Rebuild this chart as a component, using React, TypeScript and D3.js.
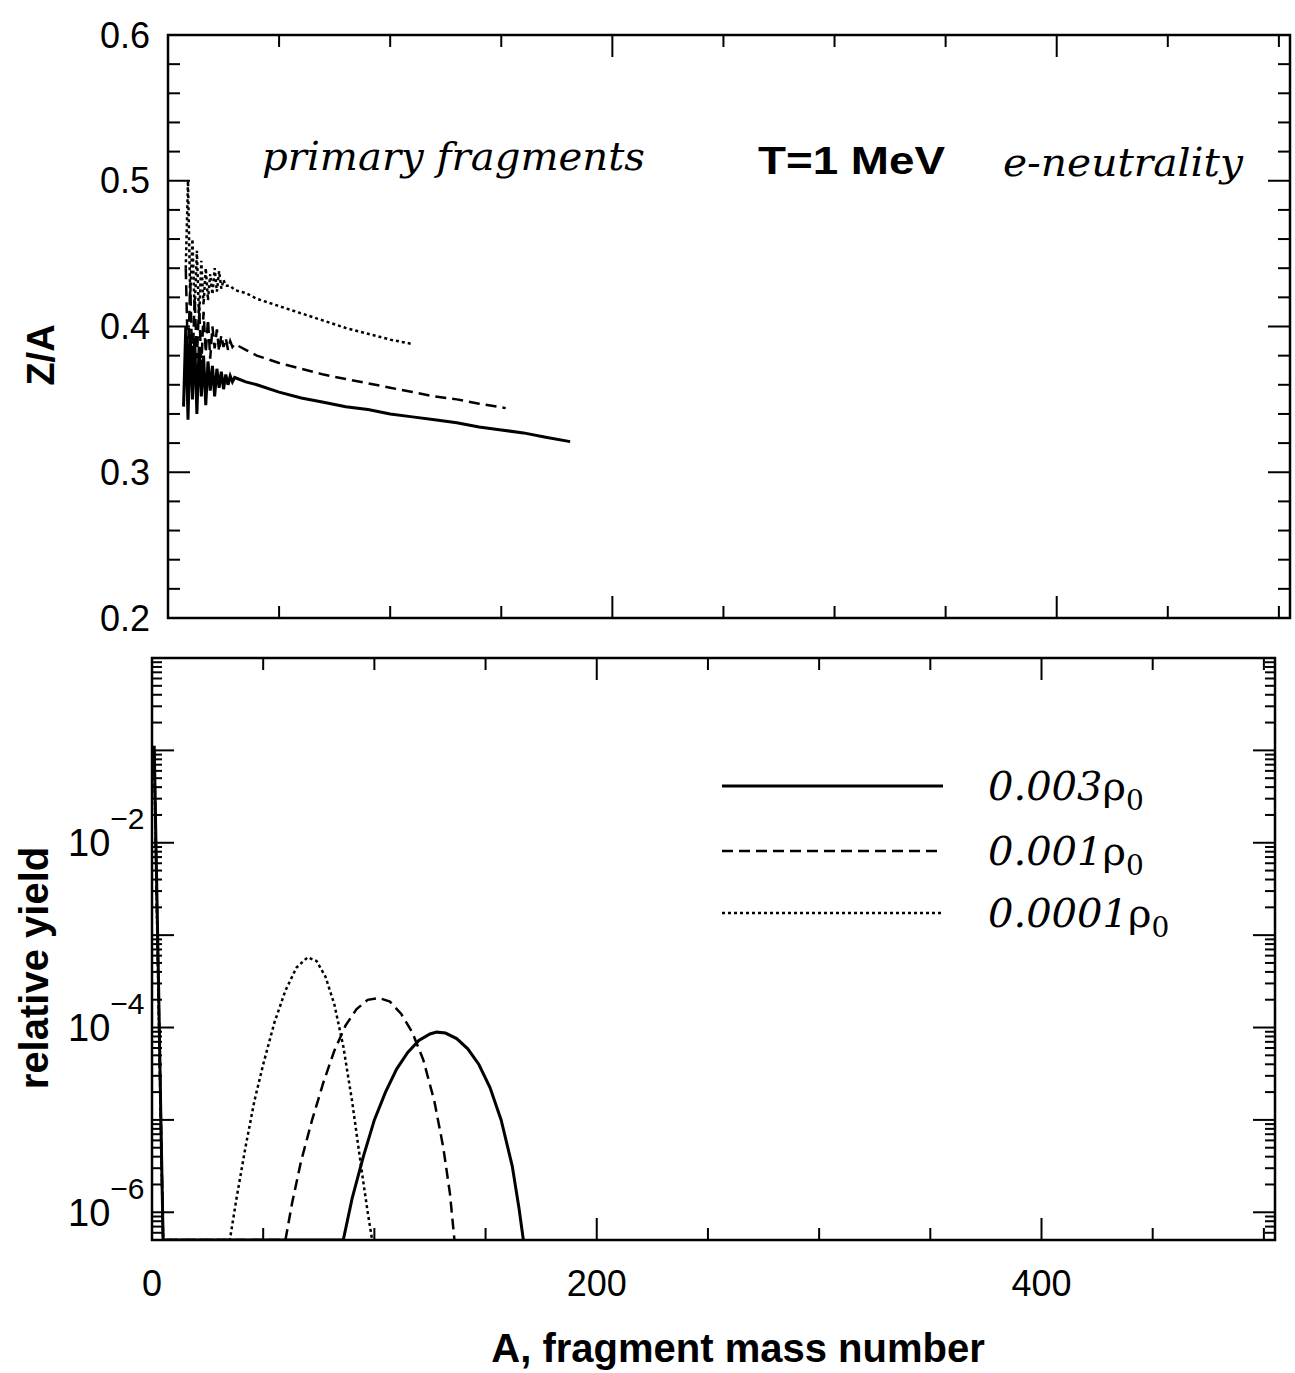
import React, { useEffect, useRef } from 'react';
import * as d3 from 'd3';

// ---- top panel: Z/A vs A ----
const zaSolidA = [7, 8, 9, 10, 11, 12, 13, 14, 15, 16, 17, 18, 19, 20, 21, 22, 23, 24, 25, 26, 27, 28, 29, 30, 35, 40, 50, 60, 70, 80, 90, 100, 110, 120, 130, 140, 150, 160, 170, 181];
const zaSolid = [0.345, 0.400, 0.336, 0.395, 0.350, 0.392, 0.340, 0.386, 0.352, 0.380, 0.346, 0.376, 0.356, 0.373, 0.352, 0.371, 0.358, 0.369, 0.357, 0.367, 0.360, 0.366, 0.362, 0.365, 0.362, 0.360, 0.355, 0.351, 0.348, 0.345, 0.343, 0.340, 0.338, 0.336, 0.334, 0.331, 0.329, 0.327, 0.324, 0.321];

const zaDashedA = [8, 9, 10, 11, 12, 13, 14, 15, 16, 17, 18, 19, 20, 21, 22, 23, 24, 25, 26, 27, 28, 29, 30, 35, 40, 50, 60, 70, 80, 90, 100, 110, 120, 130, 140, 152];
const zaDashed = [0.440, 0.375, 0.430, 0.370, 0.420, 0.378, 0.415, 0.372, 0.410, 0.382, 0.405, 0.378, 0.400, 0.385, 0.398, 0.383, 0.394, 0.386, 0.392, 0.384, 0.390, 0.386, 0.388, 0.384, 0.380, 0.375, 0.371, 0.367, 0.364, 0.361, 0.358, 0.355, 0.352, 0.350, 0.347, 0.344];

const zaDottedA = [8, 9, 10, 11, 12, 13, 14, 15, 16, 17, 18, 19, 20, 21, 22, 23, 24, 25, 26, 28, 30, 35, 40, 50, 60, 70, 80, 90, 100, 110];
const zaDotted = [0.440, 0.500, 0.420, 0.460, 0.410, 0.452, 0.405, 0.445, 0.415, 0.440, 0.418, 0.436, 0.422, 0.440, 0.424, 0.438, 0.426, 0.432, 0.428, 0.428, 0.425, 0.423, 0.419, 0.414, 0.409, 0.404, 0.399, 0.395, 0.391, 0.388];

// ---- bottom panel: log10(relative yield) vs A ----
const ySolidA = [1, 2, 3, 4, 5, 86, 90, 95, 100, 105, 110, 115, 120, 125, 128, 132, 137, 142, 147, 152, 157, 162, 165, 167];
const ySolidLog = [-0.95, -2.3, -3.6, -5.0, -6.3, -6.3, -5.85, -5.4, -5.0, -4.7, -4.45, -4.27, -4.14, -4.07, -4.05, -4.06, -4.12, -4.23, -4.4, -4.65, -5.0, -5.5, -5.95, -6.3];

const yDashedA = [1, 2, 3, 4, 5, 60, 63, 67, 72, 77, 82, 87, 92, 97, 102, 107, 112, 117, 122, 127, 131, 134, 136];
const yDashedLog = [-1.0, -2.4, -3.7, -5.0, -6.3, -6.3, -5.9, -5.45, -5.0, -4.6, -4.25, -3.98, -3.8, -3.7, -3.68, -3.72, -3.85, -4.05, -4.35, -4.8, -5.3, -5.8, -6.3];

const yDottedA = [1, 2, 3, 4, 5, 35, 38, 42, 46, 50, 55, 60, 65, 70, 74, 78, 82, 86, 90, 94, 97, 99];
const yDottedLog = [-1.1, -2.5, -3.8, -5.1, -6.3, -6.3, -5.85, -5.3, -4.8, -4.4, -3.95, -3.6, -3.35, -3.24, -3.28, -3.45, -3.75, -4.2, -4.8, -5.5, -6.0, -6.3];

const legendLabels = ['0.003', '0.001', '0.0001'];
const dashes = ['none', '11,6', '3,3'];
const zaTicks = [0.2, 0.3, 0.4, 0.5, 0.6];
const xTickLabels = [0, 200, 400];
const logLabels = [-2, -4, -6];

const W = 1295;
const H = 1373;

const App = () => {
    const svgRef = useRef(null);

    useEffect(() => {
        const svg = d3.select(svgRef.current);
        svg.selectAll('*').remove();

        const xTop = d3.scaleLinear().domain([0, 505]).range([168, 1290]);
        const yTop = d3.scaleLinear().domain([0.2, 0.6]).range([618, 35]);
        const xBot = d3.scaleLinear().domain([0, 505]).range([152, 1275]);
        const yBot = d3.scaleLog().domain([Math.pow(10, -6.3), 1]).range([1240, 658]);

        const defs = svg.append('defs');
        defs.append('clipPath').attr('id', 'clipTop').append('rect')
            .attr('x', xTop(0)).attr('y', yTop(0.6))
            .attr('width', xTop(505) - xTop(0)).attr('height', yTop(0.2) - yTop(0.6));
        defs.append('clipPath').attr('id', 'clipBot').append('rect')
            .attr('x', xBot(0)).attr('y', yBot(1))
            .attr('width', xBot(505) - xBot(0)).attr('height', yBot(Math.pow(10, -6.3)) - yBot(1));

        const sans = "'Liberation Sans', Arial, sans-serif";
        const serif = "'DejaVu Serif', 'Liberation Serif', serif";

        // frames and x ticks (inward, top and bottom)
        const frame = (x, y) => {
            const [x0, x1] = x.range();
            const [y0, y1] = y.range();
            svg.append('rect')
                .attr('x', x0).attr('y', y1)
                .attr('width', x1 - x0).attr('height', y0 - y1)
                .attr('fill', 'none').attr('stroke', '#000').attr('stroke-width', 2.5);
            d3.range(0, 501, 50).forEach(v => {
                const len = v % 200 === 0 ? 22 : 12;
                const px = x(v);
                svg.append('line').attr('x1', px).attr('x2', px).attr('y1', y0).attr('y2', y0 - len)
                    .attr('stroke', '#000').attr('stroke-width', 2);
                svg.append('line').attr('x1', px).attr('x2', px).attr('y1', y1).attr('y2', y1 + len)
                    .attr('stroke', '#000').attr('stroke-width', 2);
            });
        };
        frame(xTop, yTop);
        frame(xBot, yBot);

        // top y ticks
        d3.range(0, 21).forEach(i => {
            const v = 0.2 + i * 0.02;
            const len = i % 5 === 0 ? 22 : 12;
            const py = yTop(v);
            svg.append('line').attr('x1', xTop(0)).attr('x2', xTop(0) + len).attr('y1', py).attr('y2', py)
                .attr('stroke', '#000').attr('stroke-width', 2);
            svg.append('line').attr('x1', xTop(505)).attr('x2', xTop(505) - len).attr('y1', py).attr('y2', py)
                .attr('stroke', '#000').attr('stroke-width', 2);
        });
        zaTicks.forEach(v => {
            svg.append('text')
                .attr('x', 150).attr('y', yTop(v)).attr('dy', '0.35em')
                .attr('text-anchor', 'end')
                .style('font-family', sans).style('font-size', '36px')
                .text(v.toFixed(1));
        });

        // bottom y ticks (log)
        d3.range(-7, 0).forEach(e => {
            for (let m = 1; m <= 9; m++) {
                const v = m * Math.pow(10, e);
                if (v < Math.pow(10, -6.3) || v > 1) continue;
                const len = m === 1 ? 22 : 10;
                const py = yBot(v);
                svg.append('line').attr('x1', xBot(0)).attr('x2', xBot(0) + len).attr('y1', py).attr('y2', py)
                    .attr('stroke', '#000').attr('stroke-width', 2);
                svg.append('line').attr('x1', xBot(505)).attr('x2', xBot(505) - len).attr('y1', py).attr('y2', py)
                    .attr('stroke', '#000').attr('stroke-width', 2);
            }
        });
        logLabels.forEach(e => {
            const py = yBot(Math.pow(10, e));
            const t = svg.append('text')
                .attr('x', 68).attr('y', py).attr('dy', '0.35em')
                .style('font-family', sans).style('font-size', '38px');
            t.append('tspan').text('10');
            t.append('tspan').attr('dy', '-0.9em').style('font-size', '30px').text('\u2212' + Math.abs(e));
        });

        xTickLabels.forEach(v => {
            svg.append('text')
                .attr('x', xBot(v)).attr('y', 1296)
                .attr('text-anchor', 'middle')
                .style('font-family', sans).style('font-size', '36px')
                .text(v);
        });

        // axis titles
        svg.append('text')
            .attr('transform', 'translate(54,355) rotate(-90)')
            .attr('text-anchor', 'middle')
            .style('font-family', sans).style('font-size', '38px').style('font-weight', 'bold')
            .text('Z/A');
        svg.append('text')
            .attr('transform', 'translate(48,968) rotate(-90)')
            .attr('text-anchor', 'middle')
            .style('font-family', sans).style('font-size', '40px').style('font-weight', 'bold')
            .text('relative yield');
        svg.append('text')
            .attr('x', 738).attr('y', 1362)
            .attr('text-anchor', 'middle')
            .style('font-family', sans).style('font-size', '40px').style('font-weight', 'bold')
            .text('A, fragment mass number');

        // panel annotations
        svg.append('text')
            .attr('x', 262).attr('y', 170)
            .attr('textLength', 383).attr('lengthAdjust', 'spacingAndGlyphs')
            .style('font-family', serif).style('font-style', 'italic').style('font-size', '40px')
            .text('primary fragments');
        svg.append('text')
            .attr('x', 758).attr('y', 174)
            .attr('textLength', 187).attr('lengthAdjust', 'spacingAndGlyphs')
            .style('font-family', sans).style('font-weight', 'bold').style('font-size', '38px')
            .text('T=1 MeV');
        svg.append('text')
            .attr('x', 1003).attr('y', 176)
            .attr('textLength', 240).attr('lengthAdjust', 'spacingAndGlyphs')
            .style('font-family', serif).style('font-style', 'italic').style('font-size', '40px')
            .text('e-neutrality');

        // top curves
        const lineTop = d3.line().x(d => xTop(d[0])).y(d => yTop(d[1]));
        const gTop = svg.append('g').attr('clip-path', 'url(#clipTop)');
        [[zaSolidA, zaSolid], [zaDashedA, zaDashed], [zaDottedA, zaDotted]].forEach(([xs, ys], i) => {
            gTop.append('path')
                .attr('d', lineTop(xs.map((a, j) => [a, ys[j]])))
                .attr('fill', 'none').attr('stroke', '#000')
                .attr('stroke-width', i === 0 ? 3 : 2.5)
                .attr('stroke-dasharray', dashes[i]);
        });

        // bottom curves
        const lineBot = d3.line().x(d => xBot(d[0])).y(d => yBot(Math.pow(10, d[1])));
        const gBot = svg.append('g').attr('clip-path', 'url(#clipBot)');
        [[ySolidA, ySolidLog], [yDashedA, yDashedLog], [yDottedA, yDottedLog]].forEach(([xs, ys], i) => {
            gBot.append('path')
                .attr('d', lineBot(xs.map((a, j) => [a, ys[j]])))
                .attr('fill', 'none').attr('stroke', '#000')
                .attr('stroke-width', i === 0 ? 3 : 2.5)
                .attr('stroke-dasharray', dashes[i]);
        });

        // legend
        const legY = [786, 851, 913];
        legendLabels.forEach((lab, i) => {
            svg.append('line')
                .attr('x1', 722).attr('x2', 943).attr('y1', legY[i]).attr('y2', legY[i])
                .attr('stroke', '#000').attr('stroke-width', i === 0 ? 3 : 2.5)
                .attr('stroke-dasharray', dashes[i]);
            const t = svg.append('text')
                .attr('x', 988).attr('y', legY[i] + 14)
                .style('font-family', serif).style('font-style', 'italic').style('font-size', '40px');
            t.append('tspan').text(lab);
            t.append('tspan').style('font-style', 'normal').text('\u03c1');
            t.append('tspan').attr('dy', '0.35em').style('font-size', '28px').style('font-style', 'normal').text('0');
        });
    }, []);

    return (
        <svg ref={svgRef} width={W} height={H}
            style={{ position: 'absolute', left: 0, top: 0, background: '#fff' }} />
    );
};

export default App;
